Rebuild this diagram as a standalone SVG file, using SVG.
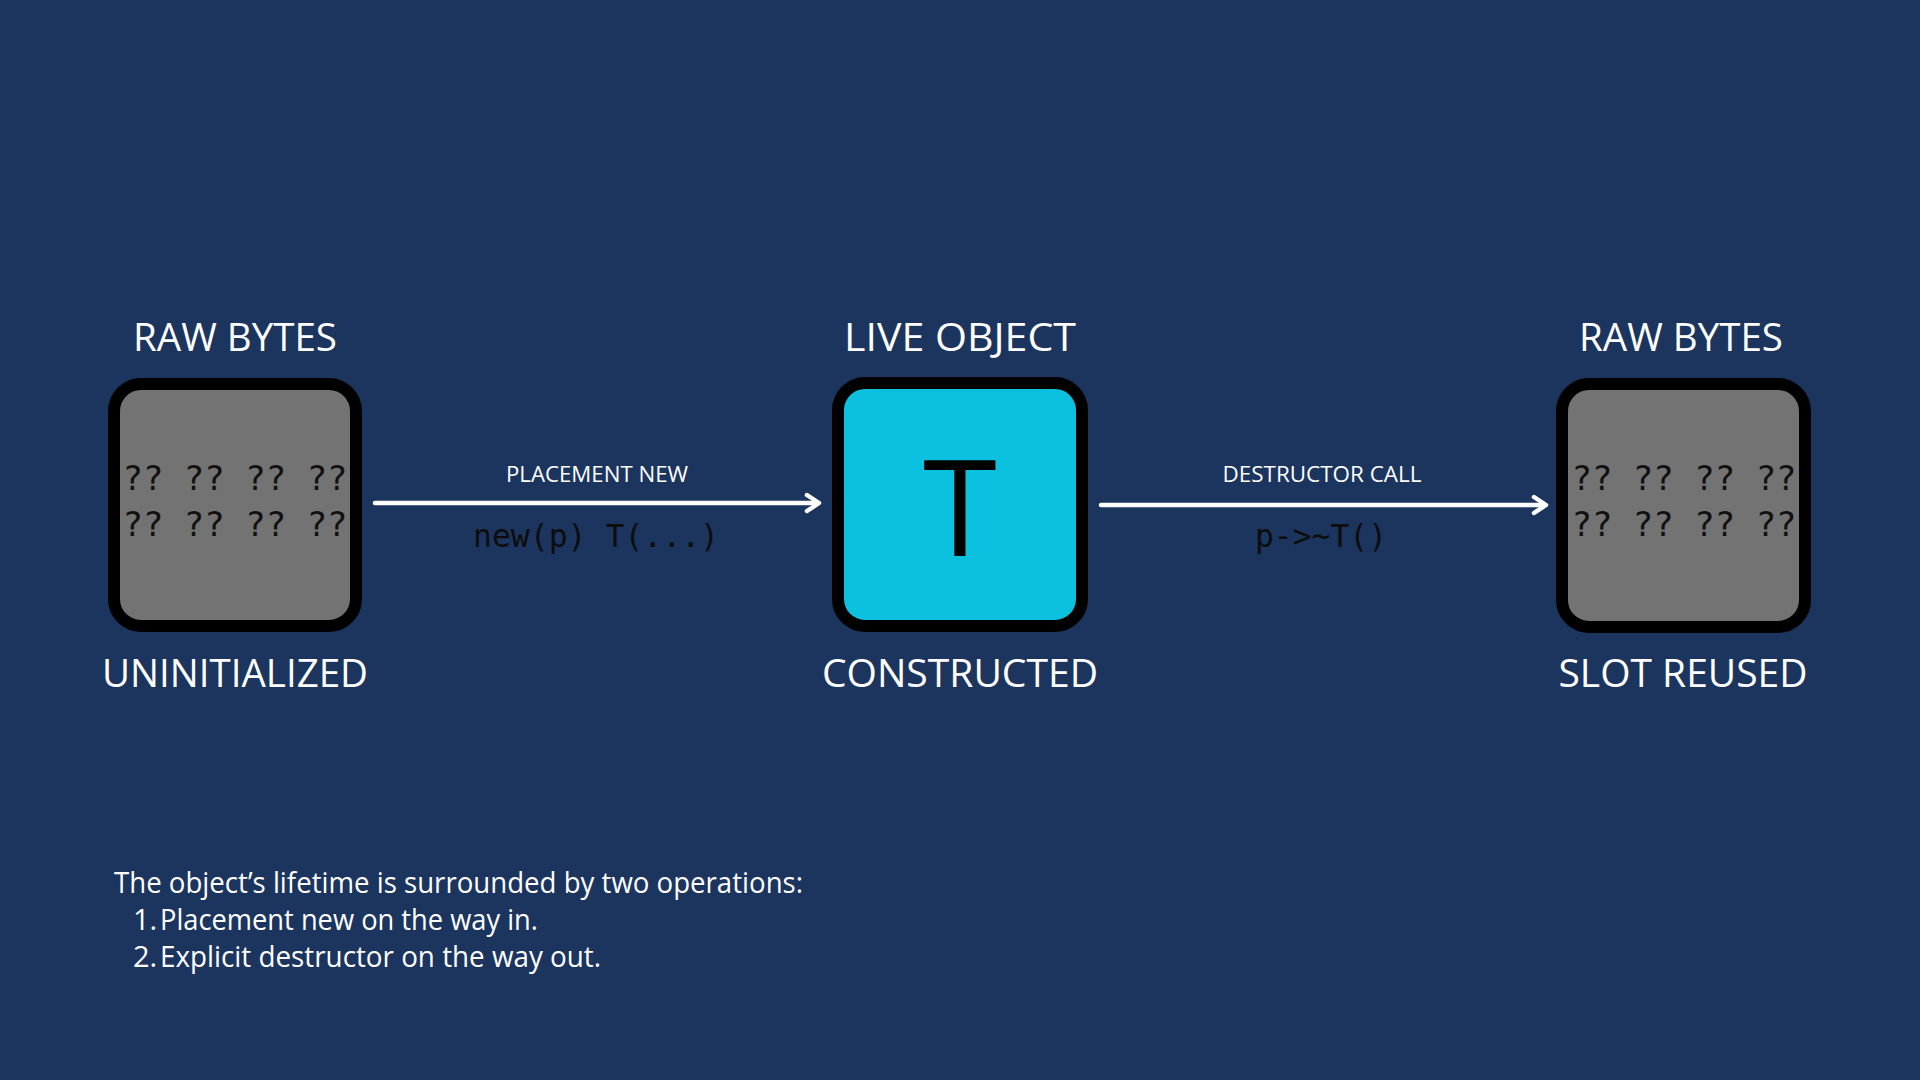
<svg xmlns="http://www.w3.org/2000/svg" width="1920" height="1080" viewBox="0 0 1920 1080">
  <defs>
    <style>
      .bg { fill: #1c355e; }
      .box { stroke: #000000; stroke-width: 12; }
      .raw { fill: #737373; }
      .live { fill: #0cc0df; }
      .label { font-family: "Open Sans", "Liberation Sans", sans-serif; font-size: 38.5px; fill: #ffffff; text-anchor: middle; }
      .bytes { font-family: "DejaVu Sans Mono", "Liberation Mono", monospace; font-size: 34px; fill: #111111; text-anchor: middle; white-space: pre; }
      .big { font-family: "Open Sans", "Liberation Sans", sans-serif; font-size: 134px; fill: #000000; text-anchor: middle; }
      .edge { stroke: #ffffff; stroke-width: 4.5; fill: none; stroke-linecap: round; stroke-linejoin: round; }
      .elabel { font-family: "Open Sans", "Liberation Sans", sans-serif; font-size: 22.5px; fill: #ffffff; text-anchor: middle; }
      .code { font-family: "DejaVu Sans Mono", "Liberation Mono", monospace; font-size: 32px; fill: #0d0d0d; text-anchor: middle; white-space: pre; }
      .note { font-family: "Open Sans", "Liberation Sans", sans-serif; font-size: 29px; fill: #ffffff; }
    </style>
  </defs>
  <rect class="bg" x="0" y="0" width="1920" height="1080"/>

  <g id="connectors">
    <g id="edge-placement-new">
      <line class="edge" x1="375" y1="503" x2="818" y2="503"/>
      <path class="edge" d="M807,495 L819,503 L807,511"/>
      <text class="elabel" x="597" y="482" textLength="182" lengthAdjust="spacingAndGlyphs">PLACEMENT NEW</text>
      <text class="code" x="596" y="547" textLength="246" lengthAdjust="spacingAndGlyphs">new(p) T(...)</text>
    </g>
    <g id="edge-destructor-call">
      <line class="edge" x1="1101" y1="505" x2="1545" y2="505"/>
      <path class="edge" d="M1534,497 L1546,505 L1534,513"/>
      <text class="elabel" x="1322" y="482" textLength="199" lengthAdjust="spacingAndGlyphs">DESTRUCTOR CALL</text>
      <text class="code" x="1321" y="547" textLength="132" lengthAdjust="spacingAndGlyphs">p-&gt;~T()</text>
    </g>
  </g>

  <g id="node-raw-bytes-1">
    <text class="label" x="235" y="351" textLength="204" lengthAdjust="spacingAndGlyphs">RAW BYTES</text>
    <rect class="box raw" x="114" y="384" width="242" height="242" rx="27" ry="27"/>
    <text class="bytes" x="235" y="490">?? ?? ?? ??</text>
    <text class="bytes" x="235" y="536">?? ?? ?? ??</text>
    <text class="label" x="235" y="687" textLength="266" lengthAdjust="spacingAndGlyphs">UNINITIALIZED</text>
  </g>

  <g id="node-live-object">
    <text class="label" x="960" y="351" textLength="232" lengthAdjust="spacingAndGlyphs">LIVE OBJECT</text>
    <rect class="box live" x="838" y="383" width="244" height="243" rx="27" ry="27"/>
    <text class="big" x="960" y="556">T</text>
    <text class="label" x="960" y="687" textLength="276" lengthAdjust="spacingAndGlyphs">CONSTRUCTED</text>
  </g>

  <g id="node-raw-bytes-2">
    <text class="label" x="1681" y="351" textLength="204" lengthAdjust="spacingAndGlyphs">RAW BYTES</text>
    <rect class="box raw" x="1562" y="384" width="243" height="243" rx="27" ry="27"/>
    <text class="bytes" x="1684" y="490">?? ?? ?? ??</text>
    <text class="bytes" x="1684" y="536">?? ?? ?? ??</text>
    <text class="label" x="1683" y="687" textLength="249" lengthAdjust="spacingAndGlyphs">SLOT REUSED</text>
  </g>

  <g id="note">
    <text class="note" x="114" y="893" textLength="689" lengthAdjust="spacingAndGlyphs">The object’s lifetime is surrounded by two operations:</text>
    <text class="note" y="930"><tspan x="133">1.</tspan><tspan x="160" textLength="378" lengthAdjust="spacingAndGlyphs">Placement new on the way in.</tspan></text>
    <text class="note" y="967"><tspan x="133">2.</tspan><tspan x="160" textLength="441" lengthAdjust="spacingAndGlyphs">Explicit destructor on the way out.</tspan></text>
  </g>
</svg>
